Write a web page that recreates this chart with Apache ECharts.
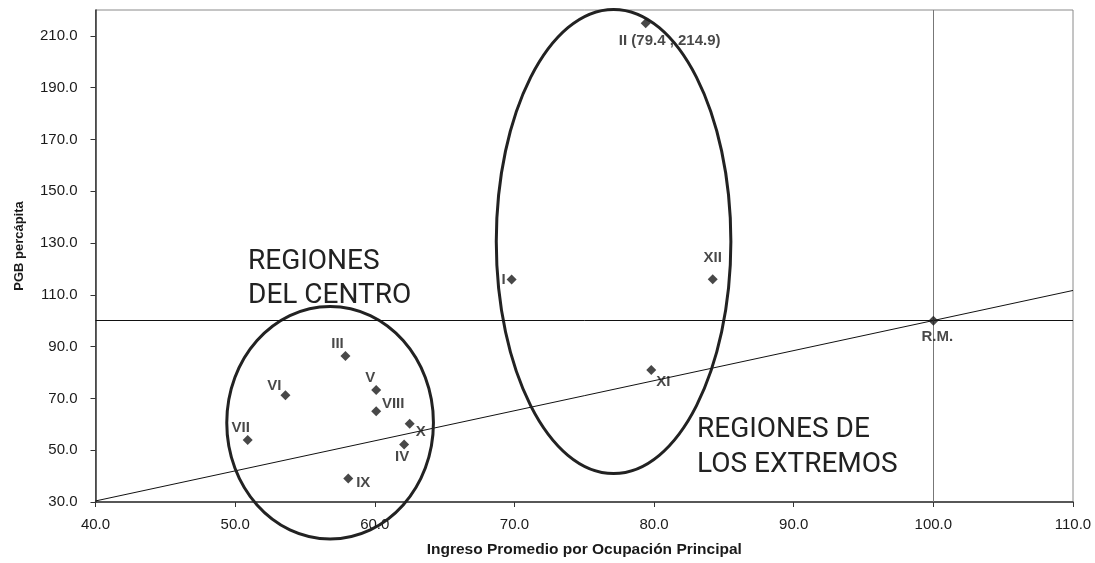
<!DOCTYPE html>
<html><head><meta charset="utf-8">
<script src="https://cdn.jsdelivr.net/npm/echarts@6/dist/echarts.min.js"></script>
<style>html,body{margin:0;padding:0;background:#fff}#c{width:1095px;height:563px}</style>
</head><body><div id="c"></div>
<script>
// ---- data ----
const regionLabels = ['I','II (79.4 , 214.9)','III','IV','V','VI','VII','VIII','IX','X','XI','XII','R.M.'];
const ingresoPromedio = [69.8, 79.4, 57.9, 62.1, 60.1, 53.6, 50.9, 60.1, 58.1, 62.5, 79.8, 84.2, 100.0];
const pgbPercapita   = [115.9, 214.9, 86.4, 52.2, 73.3, 71.2, 53.9, 65.0, 39.1, 60.2, 81.0, 116.0, 100.0];
const xTicks = [40, 50, 60, 70, 80, 90, 100, 110];
const yTicks = [30, 50, 70, 90, 110, 130, 150, 170, 190, 210];
const trendX = [40, 110];
const trendY = [30.4, 111.7];
const refX = 100;   // vertical reference (R.M.)
const refY = 100;   // horizontal reference (R.M.)
const groupCenterX = [56.8, 77.1];
const groupCenterY = [60.6, 130.6];
const groupRadiusX = [7.4, 8.4];
const groupRadiusY = [44.9, 89.6];
const groupTitles = [['REGIONES', 'DEL CENTRO'], ['REGIONES DE', 'LOS EXTREMOS']];

// ---- styling (label offsets in px) ----
const labelOffsets = [[-8,0],[24,18],[-8,-12],[-2,12],[-6,-12],[-11,-9],[-7,-12],[17,-8],[15,4],[11,8],[12,12],[0,-21],[4,16]];
const FONT = 'Liberation Sans, Arial, sans-serif';

const chart = echarts.init(document.getElementById('c'));
const fmt = v => Number(v).toFixed(1);

const scatterData = ingresoPromedio.map((x, i) => ({
  value: [x, pgbPercapita[i]],
  name: regionLabels[i],
  label: { offset: labelOffsets[i] }
}));

const ellipseData = groupCenterX.map((x, i) => [x, groupCenterY[i], groupRadiusX[i], groupRadiusY[i]]);

const titleTexts = [];
const titlePos = [[248, 265, 299], [697, 433, 467.5]];
groupTitles.forEach((lines, i) => {
  lines.forEach((t, j) => {
    titleTexts.push({
      type: 'text', left: titlePos[i][0], top: titlePos[i][1 + j] - 17, z: 100,
      style: { text: t, fill: '#222', font: '28px Roboto, sans-serif' }
    });
  });
});

chart.setOption({
  animation: false,
  backgroundColor: '#fff',
  grid: { left: 95.5, right: 22, top: 10, bottom: 56, show: true, borderColor: '#8a8a8a', borderWidth: 1, containLabel: false },
  xAxis: {
    type: 'value', min: 40, max: 110, interval: 10,
    name: 'Ingreso Promedio por Ocupación Principal', nameLocation: 'middle', nameGap: 40,
    nameTextStyle: { fontFamily: FONT, fontWeight: 'bold', fontSize: 15.5, color: '#1a1a1a' },
    axisLine: { show: true, onZero: false, lineStyle: { color: '#333', width: 1.5 } },
    axisTick: { show: true, length: 5, lineStyle: { color: '#333' }, customValues: xTicks },
    axisLabel: { fontFamily: FONT, fontSize: 15, color: '#1a1a1a', margin: 15, formatter: fmt, customValues: xTicks },
    splitLine: { show: false }
  },
  yAxis: {
    type: 'value', min: 30, max: 220, interval: 10,
    axisLine: { show: true, onZero: false, lineStyle: { color: '#333', width: 1.5 } },
    axisTick: { show: true, length: 5, lineStyle: { color: '#333' }, customValues: yTicks },
    axisLabel: { fontFamily: FONT, fontSize: 15, color: '#1a1a1a', margin: 18, formatter: fmt, customValues: yTicks },
    splitLine: { show: false }
  },
  graphic: [
    { type: 'text', x: 19, y: 246, rotation: Math.PI / 2, z: 100,
      style: { text: 'PGB percápita', fill: '#1a1a1a', font: 'bold 13px ' + FONT, align: 'center', verticalAlign: 'middle' } }
  ].concat(titleTexts),
  series: [
    {
      type: 'line', data: trendX.map((x, i) => [x, trendY[i]]), symbol: 'none', silent: true,
      lineStyle: { color: '#111', width: 1 }, z: 2,
      markLine: {
        silent: true, symbol: 'none', label: { show: false },
        data: [
          { yAxis: refY, lineStyle: { color: '#111', width: 1, type: 'solid' } },
          { xAxis: refX, lineStyle: { color: '#777', width: 1, type: 'solid' } }
        ]
      }
    },
    {
      type: 'custom', clip: false, silent: true, z: 3,
      data: ellipseData, encode: { x: 0, y: 1 },
      renderItem: (params, api) => {
        const c = api.coord([api.value(0), api.value(1)]);
        const s = api.size([api.value(2), api.value(3)]);
        return { type: 'ellipse', shape: { cx: c[0], cy: c[1], rx: s[0], ry: s[1] },
                 style: { fill: null, stroke: '#222', lineWidth: 3 } };
      }
    },
    {
      type: 'scatter', symbol: 'diamond', symbolSize: 10, z: 5,
      itemStyle: { color: '#1a1a1a' },
      label: { show: true, position: 'inside', formatter: p => p.name,
               fontFamily: FONT, fontWeight: 'bold', fontSize: 15, color: '#1a1a1a' },
      data: scatterData
    }
  ]
});
</script></body></html>
